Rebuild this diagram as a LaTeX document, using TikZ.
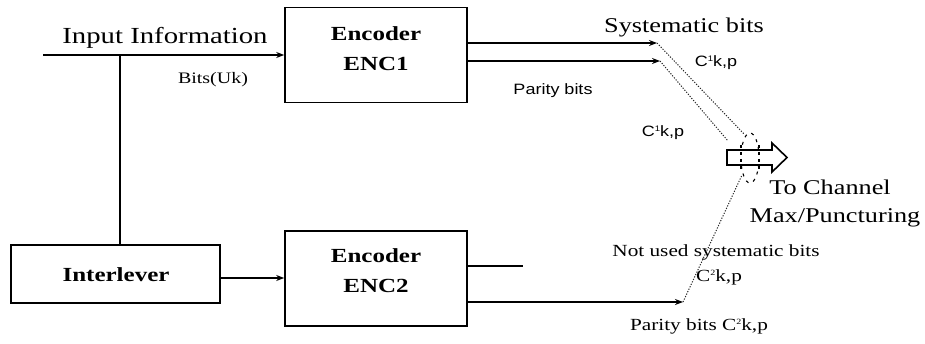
\documentclass[tikz,border=0pt]{standalone}
\usepackage{fontspec}
\setmainfont{Liberation Serif}[FakeStretch=1.25]
\newfontfamily\sansw{Liberation Sans}[FakeStretch=1.2]
\usetikzlibrary{arrows.meta}
\newcommand{\supn}[1]{\raisebox{0.7ex}{\fontsize{8}{8}\selectfont #1}}
\begin{document}
\begin{tikzpicture}[x=1pt,y=1pt,
  box/.style={draw,line width=1.6pt,minimum width=182pt,minimum height=95pt,inner sep=0pt},
  ibox/.style={draw,line width=1.6pt,minimum width=209pt,minimum height=58pt,inner sep=0pt},
  ln/.style={line width=1.5pt},
  arr/.style={line width=1.5pt,-{Stealth[length=8pt,width=6pt]}},
  dot/.style={line width=1pt,black!85,dash pattern=on 1.2pt off 1.5pt},
  blbl/.style={font=\bfseries\fontsize{20}{30}\selectfont,align=center,inner sep=0pt},
  txt/.style={inner sep=0pt}]
\useasboundingbox (0,0) rectangle (925,-344);
% boxes
\node[box] (enc1) at (376,-55) {};
\node[blbl] (enc1t) at (376,-49) {Encoder\\ENC1};
\node[box] (enc2) at (376,-278.5) {};
\node[blbl] (enc2t) at (376,-271) {Encoder\\ENC2};
\node[ibox] (intl) at (115.5,-274) {};
\node[blbl] (intlt) at (116,-275) {Interlever};
% input
\coordinate (in) at (43,-55);
\coordinate (tap) at (120,-55);
\draw[arr] (in) -- (in -| enc1.west);
\draw[ln] (tap) -- (tap |- intl.north);
\draw[arr] (intl.east |- 0,-278) -- (enc2.west |- 0,-278);
% enc1 outputs
\coordinate (s1) at (657,-43);
\coordinate (s2) at (660,-61);
\draw[arr] (enc1.east |- s1) -- (s1);
\draw[arr] (enc1.east |- s2) -- (s2);
% enc2 outputs
\coordinate (u2) at (523,-266);
\coordinate (p2) at (683,-302);
\draw[ln] (enc2.east |- u2) -- (u2);
\draw[arr] (enc2.east |- p2) -- (p2);
% dotted lines to switch
\coordinate (d1) at (744,-134);
\coordinate (d2) at (728,-141);
\coordinate (d3) at (742,-175);
\draw[dot] (s1) -- (d1);
\draw[dot] (s2) -- (d2);
\draw[dot] (p2) -- (d3);
% switch ellipse
\draw[line width=1.1pt,dash pattern=on 3pt off 5pt] (750,-158) ellipse (9 and 25);
% output arrow
\draw[line width=1.6pt,line join=miter,fill=white] (727,-150) -- (772,-150) -- (772,-143) -- (787,-157.5) -- (772,-172) -- (772,-165) -- (727,-165) -- cycle;
\draw[line width=1.1pt,dash pattern=on 3pt off 4pt] (741,-145) -- (741,-170) (759,-145) -- (759,-170);
% labels
\node[txt,font=\fontsize{23}{26}\selectfont] (lin) at (165,-38) {Input Information};
\node[txt,font=\fontsize{16}{18}\selectfont] (lbits) at (213,-80) {Bits(Uk)};
\node[txt,font=\fontsize{21}{24}\selectfont] (lsys) at (684,-27) {Systematic bits};
\node[txt,font=\sansw\fontsize{15}{18}\selectfont] (lc1a) at (716,-63) {C\supn{1}k,p};
\node[txt,font=\sansw\fontsize{15}{18}\selectfont] (lpar) at (553,-91) {Parity bits};
\node[txt,font=\sansw\fontsize{15}{18}\selectfont] (lc1b) at (663,-133) {C\supn{1}k,p};
\node[txt,font=\fontsize{21}{24}\selectfont] (lch) at (830,-187) {To Channel};
\node[txt,font=\fontsize{21}{24}\selectfont] (lmax) at (835,-218) {Max/Puncturing};
\node[txt,font=\fontsize{17}{20}\selectfont] (lnot) at (716,-252) {Not used systematic bits};
\node[txt,font=\fontsize{17}{20}\selectfont] (lc2) at (719,-277) {C\supn{2}k,p};
\node[txt,font=\fontsize{17}{20}\selectfont] (lpar2) at (699,-326) {Parity bits C\supn{2}k,p};
\end{tikzpicture}
\end{document}
